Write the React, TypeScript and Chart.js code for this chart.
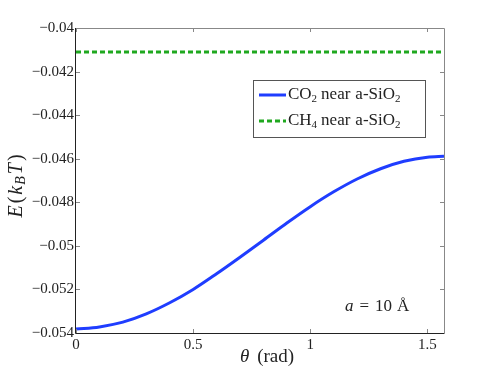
import React, { useEffect, useRef } from "react";
import { Chart, registerables } from "chart.js";

Chart.register(...registerables);

const thetaValues = [0, 0.1, 0.2, 0.3, 0.4, 0.5, 0.6, 0.7, 0.8, 0.9, 1.0, 1.1, 1.2, 1.3, 1.4, 1.5, 1.5708];
const co2Values = [-0.05382, -0.05372, -0.0535, -0.05312, -0.05261, -0.052, -0.05128, -0.05052, -0.04974, -0.04895, -0.0482, -0.04752, -0.04693, -0.04646, -0.04612, -0.04593, -0.04589];
const ch4Values = [-0.0411, -0.0411];
const ch4Theta = [0, 1.5708];
const xTicks = [0, 0.5, 1, 1.5];
const yTicks = [-0.054, -0.052, -0.05, -0.048, -0.046, -0.044, -0.042, -0.04];
const seriesLabels = ["CO", "CH"];
const annotationText = "a = 10 Å";

const SERIF = "'Liberation Serif', 'DejaVu Serif', serif";
const BLUE = "#1f3dff";
const GREEN = "#1fa81f";

const fmtY = (v: number) => {
  const r = Number(v.toFixed(3));
  return r < 0 ? "\u2212" + String(Math.abs(r)) : String(r);
};

const overlay = {
  id: "overlay",
  afterDraw(chart: any) {
    const ctx = chart.ctx as CanvasRenderingContext2D;
    const { left, right, top, bottom } = chart.chartArea;
    const xs = chart.scales.x;
    const ys = chart.scales.y;
    ctx.save();
    // inward ticks
    ctx.strokeStyle = "#888";
    ctx.lineWidth = 1;
    ctx.beginPath();
    xTicks.forEach((v) => {
      const px = Math.round(xs.getPixelForValue(v)) + 0.5;
      ctx.moveTo(px, bottom);
      ctx.lineTo(px, bottom - 4);
      ctx.moveTo(px, top);
      ctx.lineTo(px, top + 4);
    });
    yTicks.forEach((v) => {
      const py = Math.round(ys.getPixelForValue(v)) + 0.5;
      ctx.moveTo(left, py);
      ctx.lineTo(left + 4, py);
      ctx.moveTo(right, py);
      ctx.lineTo(right - 4, py);
    });
    ctx.stroke();
    // box
    ctx.strokeStyle = "#888";
    ctx.beginPath();
    ctx.moveTo(left, top + 0.5);
    ctx.lineTo(right + 0.5, top + 0.5);
    ctx.lineTo(right + 0.5, bottom);
    ctx.stroke();
    ctx.strokeStyle = "#222";
    ctx.beginPath();
    ctx.moveTo(left - 0.5, top);
    ctx.lineTo(left - 0.5, bottom + 0.5);
    ctx.lineTo(right + 0.5, bottom + 0.5);
    ctx.stroke();

    // legend box
    const lx = 253, ly = 80, lw = 172, lh = 57;
    ctx.fillStyle = "#fff";
    ctx.fillRect(lx, ly, lw, lh);
    ctx.strokeStyle = "#555";
    ctx.strokeRect(lx + 0.5, ly + 0.5, lw, lh);
    const rows = [
      { y: 95, color: BLUE, dash: [] as number[], main: seriesLabels[0], sub: "2" },
      { y: 121, color: GREEN, dash: [5, 3], main: seriesLabels[1], sub: "4" },
    ];
    rows.forEach((r) => {
      ctx.strokeStyle = r.color;
      ctx.lineWidth = 3;
      ctx.setLineDash(r.dash);
      ctx.beginPath();
      ctx.moveTo(259, r.y);
      ctx.lineTo(286, r.y);
      ctx.stroke();
      ctx.setLineDash([]);
      ctx.fillStyle = "#222";
      ctx.textBaseline = "middle";
      ctx.textAlign = "left";
      let x = 288;
      ctx.font = `17px ${SERIF}`;
      ctx.fillText(r.main, x, r.y);
      x += ctx.measureText(r.main).width;
      ctx.font = `11px ${SERIF}`;
      ctx.fillText(r.sub, x, r.y + 4);
      x += ctx.measureText(r.sub).width + 4;
      ctx.font = `17px ${SERIF}`;
      const mid1 = "near";
      ctx.fillText(mid1, x, r.y);
      x += ctx.measureText(mid1).width + 5;
      const mid2 = "a-SiO";
      ctx.fillText(mid2, x, r.y);
      x += ctx.measureText(mid2).width;
      ctx.font = `11px ${SERIF}`;
      ctx.fillText("2", x, r.y + 4);
    });

    // annotation a = 10 Å
    ctx.fillStyle = "#222";
    ctx.textBaseline = "middle";
    ctx.textAlign = "left";
    const bits = annotationText.split(" ");
    ctx.font = `italic 17px ${SERIF}`;
    let ax = 345;
    ctx.fillText(bits[0], ax, 307);
    ax += ctx.measureText(bits[0]).width + 6;
    ctx.font = `17px ${SERIF}`;
    ctx.fillText(bits[1], ax, 307);
    ax += ctx.measureText(bits[1]).width + 6;
    ctx.fillText(bits[2], ax, 307);
    ax += ctx.measureText(bits[2]).width + 5;
    ctx.fillText(bits[3], ax, 307);

    // x title
    ctx.font = `italic 19px ${SERIF}`;
    const th = "\u03b8";
    const thW = ctx.measureText(th).width;
    ctx.font = `19px ${SERIF}`;
    const radW = ctx.measureText("(rad)").width;
    const gap = 8;
    let tx = 267 - (thW + radW + gap) / 2;
    ctx.font = `italic 19px ${SERIF}`;
    ctx.fillText(th, tx, 357);
    ctx.font = `19px ${SERIF}`;
    ctx.fillText("(rad)", tx + thW + gap, 357);

    // y title rotated
    ctx.translate(17, 186);
    ctx.rotate(-Math.PI / 2);
    const parts = [
      { t: "E", f: `italic 20px ${SERIF}`, dy: 0, sp: 2 },
      { t: "(", f: `20px ${SERIF}`, dy: 0, sp: 2 },
      { t: "k", f: `italic 20px ${SERIF}`, dy: 0, sp: 1 },
      { t: "B", f: `italic 14px ${SERIF}`, dy: 4, sp: 2 },
      { t: "T", f: `italic 20px ${SERIF}`, dy: 0, sp: 2 },
      { t: ")", f: `20px ${SERIF}`, dy: 0, sp: 0 },
    ];
    let total = 0;
    parts.forEach((p) => {
      ctx.font = p.f;
      total += ctx.measureText(p.t).width + p.sp;
    });
    let px = -total / 2;
    parts.forEach((p) => {
      ctx.font = p.f;
      ctx.fillText(p.t, px, p.dy);
      px += ctx.measureText(p.t).width + p.sp;
    });
    ctx.restore();
  },
};

export default function App() {
  const ref = useRef<HTMLCanvasElement | null>(null);
  useEffect(() => {
    if (!ref.current) return;
    const chart = new Chart(ref.current, {
      type: "line",
      data: {
        datasets: [
          {
            label: "CO2 near a-SiO2",
            data: thetaValues.map((t, i) => ({ x: t, y: co2Values[i] })),
            borderColor: BLUE,
            borderWidth: 3,
            pointRadius: 0,
            cubicInterpolationMode: "monotone",
          },
          {
            label: "CH4 near a-SiO2",
            data: ch4Theta.map((t, i) => ({ x: t, y: ch4Values[i] })),
            borderColor: GREEN,
            borderWidth: 3,
            borderDash: [5, 3],
            pointRadius: 0,
          },
        ],
      },
      options: {
        animation: false,
        responsive: false,
        maintainAspectRatio: false,
        layout: { padding: { left: 0, top: 28, right: 47, bottom: 0 } },
        plugins: { legend: { display: false }, tooltip: { enabled: false } },
        scales: {
          x: {
            type: "linear",
            min: 0,
            max: 1.5708,
            grid: { display: false },
            border: { display: false },
            afterBuildTicks: (s: any) => {
              s.ticks = xTicks.map((v) => ({ value: v }));
            },
            afterFit: (s: any) => {
              s.height = 42;
            },
            ticks: {
              color: "#222",
              font: { family: SERIF, size: 15 },
              padding: -5,
              maxRotation: 0,
              autoSkip: false,
              callback: (v: any) => String(v),
            },
          },
          y: {
            type: "linear",
            min: -0.054,
            max: -0.04,
            grid: { display: false },
            border: { display: false },
            afterBuildTicks: (s: any) => {
              s.ticks = yTicks.map((v) => ({ value: v }));
            },
            afterFit: (s: any) => {
              s.width = 76;
            },
            ticks: {
              color: "#222",
              font: { family: SERIF, size: 15 },
              padding: -6,
              autoSkip: false,
              callback: (v: any) => fmtY(Number(v)),
            },
          },
        },
      },
      plugins: [overlay],
    } as any);
    return () => chart.destroy();
  }, []);
  return (
    <div style={{ position: "fixed", left: 0, top: 0, width: 491, height: 375, background: "#fff" }}>
      <canvas ref={ref} width={491} height={375} style={{ width: 491, height: 375, display: "block" }} />
    </div>
  );
}
